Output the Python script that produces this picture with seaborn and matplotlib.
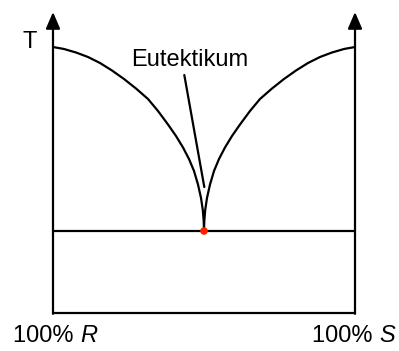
import matplotlib
matplotlib.use("Agg")
import matplotlib.pyplot as plt
import seaborn as sns
import pandas as pd

# Composition (0 = 100% R, 1 = 100% S) and temperature (arbitrary units, 0 = bottom)
left_x = [0.0, 0.0364, 0.0762, 0.1159, 0.1556, 0.1954, 0.2351, 0.2748, 0.3146, 0.3477,
          0.3808, 0.4073, 0.4305, 0.4503, 0.4669, 0.4801, 0.4901, 0.4960, 0.4990, 0.5]
left_T = [266, 264, 260.5, 256, 250, 242.5, 234, 224.5, 214, 202,
          188.5, 177, 165.5, 154, 142, 128.5, 115, 103, 92, 82]
right_x = [1.0, 0.9636, 0.9238, 0.8841, 0.8444, 0.8046, 0.7649, 0.7252, 0.6854, 0.6523,
           0.6192, 0.5927, 0.5695, 0.5497, 0.5331, 0.5199, 0.5099, 0.5040, 0.5010, 0.5]
right_T = [266, 264, 260.5, 256, 250, 242.5, 234, 224.5, 214, 202,
           188.5, 177, 165.5, 154, 142, 128.5, 115, 103, 92, 82]
eutectic_x = [0.5]
eutectic_T = [82]
eutectic_line_x = [0.0, 1.0]
eutectic_line_T = [82, 82]
base_x = [0.0, 1.0]
base_T = [0, 0]

label_T = "T"
label_eut = "Eutektikum"
comp_labels = [("100% ", "R"), ("100% ", "S")]

sns.set_theme(style="white")
plt.rcParams['font.family'] = ['Liberation Sans', 'DejaVu Sans']

fig = plt.figure(figsize=(3.99, 3.51), dpi=100)
ax = fig.add_axes([0, 0, 1, 1])
ax.set_xlim(-53 / 302, (399 - 53) / 302)
ax.set_ylim(-38, 313)
ax.axis('off')

lw = 1.6
df_l = pd.DataFrame({"x": left_x, "T": left_T})
df_r = pd.DataFrame({"x": right_x, "T": right_T})
sns.lineplot(data=df_l, x="x", y="T", sort=False, color="black", lw=lw, ax=ax)
sns.lineplot(data=df_r, x="x", y="T", sort=False, color="black", lw=lw, ax=ax)
sns.lineplot(x=eutectic_line_x, y=eutectic_line_T, color="black", lw=lw, ax=ax)
sns.lineplot(x=base_x, y=base_T, color="black", lw=lw, ax=ax)

# vertical axes with arrows
for xv in [0.0, 1.0]:
    ax.annotate("", xy=(xv, 301), xytext=(xv, -0.8),
                arrowprops=dict(arrowstyle="-|>,head_length=1.0,head_width=0.43",
                                mutation_scale=10, lw=lw, color="black",
                                shrinkA=0, shrinkB=0))

sns.scatterplot(x=eutectic_x, y=eutectic_T, color="#ff2000", s=30, edgecolor="none",
                zorder=5, ax=ax)

# pointer line from label to eutectic
ax.plot([(184.3 - 53) / 302, (204.3 - 53) / 302], [313 - 75, 313 - 187],
        color="black", lw=lw)

fs = 17
tc = "black"
ax.text((30 - 53) / 302, 313 - 42, label_T, ha="center", va="center", fontsize=fs, color=tc)
ax.text((190 - 53) / 302, 313 - 60, label_eut, ha="center", va="center", fontsize=fs, color=tc)

fig.canvas.draw()
r = fig.canvas.get_renderer()
for (pre, letter), xpx in zip(comp_labels, [13, 312]):
    t = ax.text((xpx - 53) / 302, 313 - 336, pre, ha="left", va="center", fontsize=fs, color=tc)
    bb = t.get_window_extent(renderer=r)
    xd, _ = ax.transData.inverted().transform((bb.x1, (bb.y0 + bb.y1) / 2))
    ax.text(xd, 313 - 336, letter, ha="left", va="center", fontsize=fs, style="italic", color=tc)

fig.savefig("out.png", dpi=100)
